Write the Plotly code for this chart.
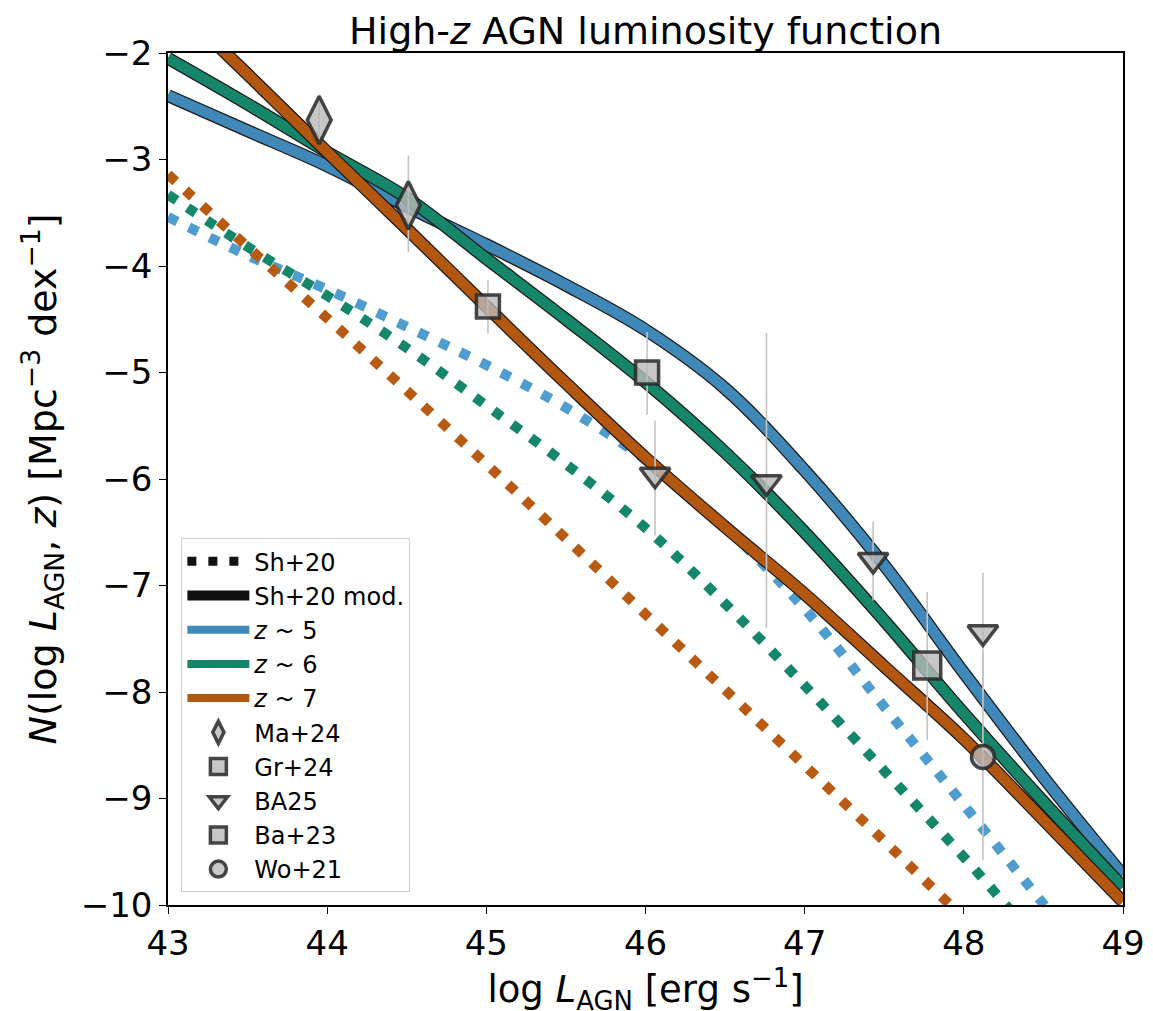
import plotly.graph_objects as go

# Sh+20 modified (solid) luminosity functions
lum_solid = [43.0, 43.5, 44.0, 44.5, 45.0, 45.5, 46.0, 46.5, 47.0, 47.5, 48.0, 48.5, 49.0]
z5_solid = [-2.40, -2.73, -3.06, -3.44, -3.80, -4.18, -4.60, -5.15, -5.92, -6.81, -7.82, -8.80, -9.72]
z6_solid = [-2.05, -2.48, -2.93, -3.36, -3.93, -4.50, -5.09, -5.75, -6.50, -7.33, -8.20, -9.03, -9.83]
z7_solid = [-1.48, -2.20, -2.93, -3.65, -4.38, -5.10, -5.80, -6.45, -7.08, -7.76, -8.44, -9.20, -9.97]

# Sh+20 original (dotted)
lum_dot = [43.0, 43.5, 44.0, 44.5, 45.0, 45.5, 46.0, 46.5, 47.0, 47.5, 48.0, 48.5, 49.0]
z5_dot = [-3.54, -3.90, -4.22, -4.57, -4.93, -5.33, -5.82, -6.45, -7.22, -8.14, -9.06, -9.99, -10.9]
z6_dot = [-3.33, -3.82, -4.28, -4.77, -5.31, -5.86, -6.46, -7.17, -7.94, -8.74, -9.55, -10.4, -11.2]
z7_dot = [-3.14, -3.82, -4.49, -5.17, -5.86, -6.56, -7.27, -7.98, -8.69, -9.40, -10.12, -10.8, -11.5]

# observations: x, y, err_plus, err_minus
ma24_x = [43.95, 44.51]
ma24_y = [-2.63, -3.43]
ma24_ep = [0.24, 0.47]
ma24_em = [0.22, 0.44]

gr24_x = [45.01, 46.01]
gr24_y = [-4.38, -5.00]
gr24_ep = [0.25, 0.38]
gr24_em = [0.25, 0.40]

ba25_x = [46.06, 46.76, 47.43, 48.12]
ba25_y = [-5.96, -6.03, -6.76, -7.44]
ba25_ep = [0.51, 1.40, 0.36, 0.56]
ba25_em = [0.57, 1.37, 0.38, 0.56]

ba23_x = [47.77]
ba23_y = [-7.75]
ba23_ep = [0.69]
ba23_em = [0.70]

wo21_x = [48.12]
wo21_y = [-8.61]
wo21_ep = [0.97]
wo21_em = [0.97]

z_labels = ['<i>z</i> ~ 5', '<i>z</i> ~ 6', '<i>z</i> ~ 7']
solid_colors = ['#3f88b7', '#15866a', '#b3560f']
dot_colors = ['#4f9cce', '#14876a', '#b95a12']

FONT = 'DejaVu Sans'

fig = go.Figure()

# dotted Sh+20 curves
for ys, col in zip([z5_dot, z6_dot, z7_dot], dot_colors):
    fig.add_trace(go.Scatter(
        x=lum_dot, y=ys, mode='lines', line=dict(color=col, width=10, dash='10px,13px', shape='spline'),
        showlegend=False, hoverinfo='skip'))

# solid modified curves with black outline
for ys, col, lab in zip([z5_solid, z6_solid, z7_solid], solid_colors, z_labels):
    fig.add_trace(go.Scatter(
        x=lum_solid, y=ys, mode='lines', line=dict(color='#1a1a1a', width=13, shape='spline'),
        showlegend=False, hoverinfo='skip'))
    fig.add_trace(go.Scatter(
        x=lum_solid, y=ys, mode='lines', line=dict(color=col, width=10.5, shape='spline'),
        showlegend=False, name=lab))

# legend entries for line styles
fig.add_trace(go.Scatter(x=[None], y=[None], mode='lines', name='Sh+20',
                         line=dict(color='#111111', width=9, dash='9px,12px')))
fig.add_trace(go.Scatter(x=[None], y=[None], mode='lines', name='Sh+20 mod.',
                         line=dict(color='#111111', width=10)))
for col, lab in zip(solid_colors, z_labels):
    fig.add_trace(go.Scatter(x=[None], y=[None], mode='lines', name=lab,
                             line=dict(color=col, width=8)))

obs = [
    ('Ma+24', ma24_x, ma24_y, ma24_ep, ma24_em, 'diamond-tall', 34),
    ('Gr+24', gr24_x, gr24_y, gr24_ep, gr24_em, 'square', 23),
    ('BA25', ba25_x, ba25_y, ba25_ep, ba25_em, 'triangle-down', 26),
    ('Ba+23', ba23_x, ba23_y, ba23_ep, ba23_em, 'square', 27),
    ('Wo+21', wo21_x, wo21_y, wo21_ep, wo21_em, 'circle', 23),
]
for name, xs, ys, ep, em, sym, size in obs:
    fig.add_trace(go.Scatter(
        x=xs, y=ys, mode='markers', name=name,
        marker=dict(symbol=sym, size=size, color='rgba(185,185,185,0.8)',
                    line=dict(color='rgba(40,40,40,0.85)', width=3.5)),
        error_y=dict(type='data', array=ep, arrayminus=em, color='#c4c4c4',
                     thickness=1.6, width=0)))

axis_common = dict(
    showgrid=False, zeroline=False, showline=True, linecolor='black', linewidth=1.5,
    mirror=True, ticks='outside', ticklen=7, tickwidth=1.3, tickcolor='black',
    tickfont=dict(family=FONT, size=34, color='black'),
)

# page body adds 8px around the figure, margins compensate for it
fig.update_layout(
    width=1153, height=1011,
    margin=dict(l=160, r=38, t=45, b=114),
    paper_bgcolor='white', plot_bgcolor='white',
    font=dict(family=FONT, color='black'),
    title=dict(text='High-<i>z</i> AGN luminosity function', x=0.5, xref='paper', xanchor='center',
               yref='container', y=0.978, yanchor='middle',
               font=dict(family=FONT, size=38, color='black')),
    xaxis=dict(range=[43, 49], dtick=1,
               title=dict(text='log <i>L</i><sub>AGN</sub> [erg s<sup>−1</sup>]',
                          font=dict(family=FONT, size=37), standoff=0),
               **axis_common),
    yaxis=dict(range=[-10, -2], dtick=1,
               title=dict(text='<i>N</i>(log <i>L</i><sub>AGN</sub>, <i>z</i>) [Mpc<sup>−3</sup> dex<sup>−1</sup>]',
                          font=dict(family=FONT, size=38), standoff=12),
               **axis_common),
    legend=dict(x=0.014, y=0.015, xanchor='left', yanchor='bottom',
                bgcolor='rgba(255,255,255,0.85)', bordercolor='#d0d0d0', borderwidth=1,
                font=dict(family=FONT, size=24, color='black'), itemwidth=62,
                tracegroupgap=0),
)

fig.write_html("out.html")
